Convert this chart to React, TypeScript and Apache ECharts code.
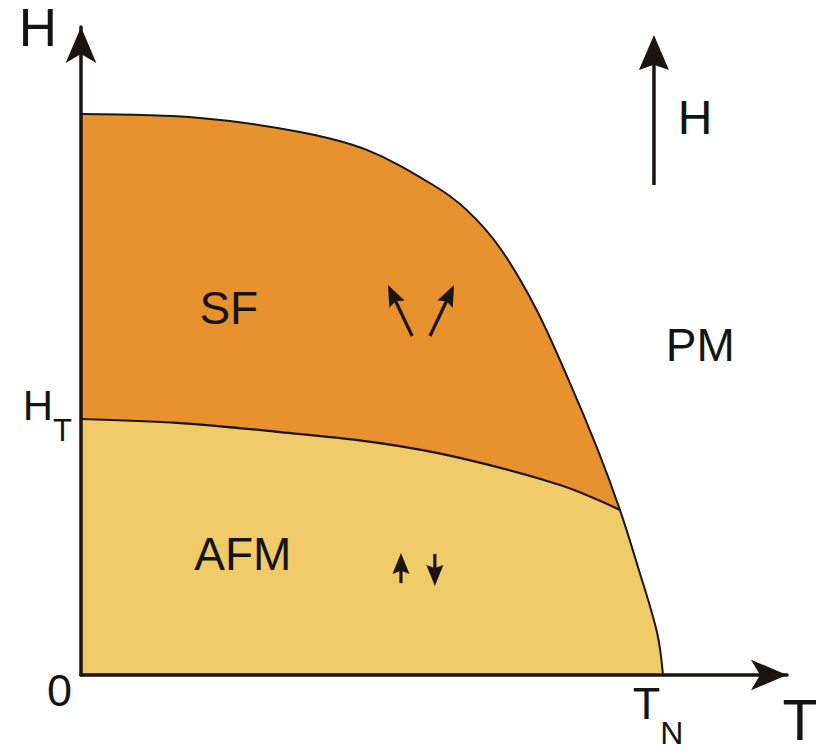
import { useEffect, useRef } from 'react';
import * as echarts from 'echarts';

// Phase boundary between the spin-flop phase and the paramagnet (T, H in reduced units: T/T_N, H/H_T)
const upperT = [0, 0.2045, 0.376, 0.491, 0.605, 0.663, 0.72, 0.782, 0.84, 0.888, 0.926];
const upperH = [2.191, 2.176, 2.121, 2.051, 1.914, 1.816, 1.668, 1.43, 1.141, 0.879, 0.645];
// Spin-flop transition line H_T(T)
const lowerT = [0, 0.17, 0.342, 0.514, 0.651, 0.823, 0.926];
const lowerH = [1.0, 0.984, 0.949, 0.906, 0.848, 0.742, 0.645];
// AFM / PM boundary from the bicritical point down to T_N
const tailT = [0.926, 0.957, 0.99, 1.0];
const tailH = [0.645, 0.422, 0.164, 0];

// Axis tick labels
const tTicks = [1];
const tTickNames = ['T|N'];
const hTicks = [0, 1];
const hTickNames = ['0', 'H|T'];

// Phase labels
const phaseNames = ['SF', 'AFM', 'PM'];
const phaseT = [0.254, 0.278, 1.064];
const phaseH = [1.434, 0.473, 1.289];

// Spin arrows: [T start, H start, T tip, H tip]
const spinArrows = [
  [0.569, 1.324, 0.5275, 1.523],
  [0.5997, 1.324, 0.641, 1.523],
  [0.5498, 0.359, 0.5498, 0.477],
  [0.608, 0.473, 0.608, 0.348],
];
// Applied field arrow and its label
const fieldArrow = [[0.9845, 1.914, 0.9845, 2.5]];
const fieldLabel = ['H'];
const fieldLabelT = [1.055];
const fieldLabelH = [2.176];

const T_MAX = 1.2131;
const H_MAX = 2.53125;

const ORANGE = '#e8922f';
const YELLOW = '#f0cb6a';
const INK = '#1c1410';
const TEXT = '#141414';
const FONT = '"Liberation Sans", Arial, Helvetica, sans-serif';

const zip = (xs: number[], ys: number[]) => xs.map((x, i) => [x, ys[i]]);

const arrowRenderer = (headLen: number, headWidth: number, lineWidth: number) =>
  (_params: any, api: any) => {
    const a = api.coord([api.value(0), api.value(1)]);
    const b = api.coord([api.value(2), api.value(3)]);
    const dx = b[0] - a[0];
    const dy = b[1] - a[1];
    const len = Math.hypot(dx, dy) || 1;
    const ux = dx / len;
    const uy = dy / len;
    const nx = -uy;
    const ny = ux;
    const bx = b[0] - ux * headLen;
    const by = b[1] - uy * headLen;
    const mx = b[0] - ux * headLen * 0.85;
    const my = b[1] - uy * headLen * 0.85;
    const hw = headWidth / 2;
    return {
      type: 'group',
      children: [
        {
          type: 'line',
          shape: { x1: a[0], y1: a[1], x2: b[0] - ux * headLen * 0.6, y2: b[1] - uy * headLen * 0.6 },
          style: { stroke: INK, lineWidth },
        },
        {
          type: 'polygon',
          shape: {
            points: [
              [b[0], b[1]],
              [bx + nx * hw, by + ny * hw],
              [mx, my],
              [bx - nx * hw, by - ny * hw],
            ],
          },
          style: { fill: INK },
        },
      ],
    };
  };

const plainLabel = (fontSize: number) => ({
  show: true,
  position: 'inside',
  formatter: '{b}',
  fontSize,
  color: TEXT,
  opacity: 1,
  fontFamily: FONT,
  textBorderWidth: 0,
  textBorderColor: 'transparent',
  textShadowBlur: 0,
});

export default function App() {
  const ref = useRef<HTMLDivElement>(null);

  useEffect(() => {
    const chart = echarts.init(ref.current!, null, { renderer: 'svg' });
    const upper = zip(upperT, upperH);
    const lower = zip(lowerT, lowerH);
    const tail = zip(tailT, tailH);
    const outer = upper.concat(tail.slice(1));

    chart.setOption({
      animation: false,
      backgroundColor: '#ffffff',
      textStyle: { fontFamily: FONT },
      grid: { left: 81, top: 27, right: 38, bottom: 76, outerBoundsMode: 'none', containLabel: false },
      xAxis: {
        type: 'value',
        min: 0,
        max: T_MAX,
        z: 5,
        name: 'T',
        nameLocation: 'end',
        nameGap: 0,
        nameTextStyle: {
          fontSize: 57,
          lineHeight: 50,
          color: TEXT,
          align: 'center',
          verticalAlign: 'top',
          padding: [20, 0, 0, 26],
        },
        axisLine: {
          show: true,
          symbol: ['none', 'arrow'],
          symbolSize: [23, 36],
          lineStyle: { color: INK, width: 3.5 },
        },
        axisTick: { show: false },
        splitLine: { show: false },
        axisLabel: {
          customValues: tTicks,
          margin: 3,
          color: TEXT,
          formatter: (v: number) => {
            const [main, sub] = tTickNames[tTicks.indexOf(v)].split('|');
            return `{b|${main}}{s|${sub}}`;
          },
          rich: {
            b: { fontSize: 45, lineHeight: 50, color: TEXT },
            s: { fontSize: 32, lineHeight: 24, padding: [60, 10, 0, 0], color: TEXT },
          },
        },
      },
      yAxis: {
        type: 'value',
        min: 0,
        max: H_MAX,
        z: 5,
        name: 'H',
        nameLocation: 'end',
        nameGap: 0,
        nameTextStyle: {
          fontSize: 53,
          lineHeight: 40,
          color: TEXT,
          align: 'right',
          verticalAlign: 'middle',
          padding: [0, 24, 0, 0],
        },
        axisLine: {
          show: true,
          symbol: ['none', 'arrow'],
          symbolSize: [23, 36],
          lineStyle: { color: INK, width: 3.5 },
        },
        axisTick: { show: false },
        splitLine: { show: false },
        axisLabel: {
          customValues: hTicks,
          margin: 9,
          color: TEXT,
          formatter: (v: number) => {
            const [main, sub] = hTickNames[hTicks.indexOf(v)].split('|');
            return sub ? `{b|${main}}{s|${sub}}` : `{z|${main}}`;
          },
          rich: {
            z: { fontSize: 45, lineHeight: 50, padding: [30, 0, 0, 0], color: TEXT },
            b: { fontSize: 42, lineHeight: 50, padding: [0, 0, 28, 0], color: TEXT },
            s: { fontSize: 31, lineHeight: 24, padding: [23, 0, 0, 0], color: TEXT },
          },
        },
      },
      series: [
        {
          name: 'ordered',
          type: 'line',
          data: outer,
          smooth: 0.35,
          symbol: 'none',
          lineStyle: { width: 0 },
          areaStyle: { color: YELLOW, opacity: 1 },
          z: 1,
        },
        {
          name: 'SF fill',
          type: 'line',
          data: upper,
          smooth: 0.35,
          symbol: 'none',
          lineStyle: { width: 0 },
          areaStyle: { color: ORANGE, opacity: 1, origin: 0.6 },
          z: 2,
        },
        {
          name: 'AFM fill',
          type: 'line',
          data: lower,
          smooth: 0.35,
          symbol: 'none',
          lineStyle: { width: 0 },
          areaStyle: { color: YELLOW, opacity: 1 },
          z: 3,
        },
        {
          name: 'boundary',
          type: 'line',
          data: outer,
          smooth: 0.35,
          symbol: 'none',
          lineStyle: { color: INK, width: 2 },
          z: 4,
        },
        {
          name: 'spin-flop line',
          type: 'line',
          data: lower,
          smooth: 0.35,
          symbol: 'none',
          lineStyle: { color: INK, width: 2.2 },
          z: 4,
        },
        {
          name: 'spins',
          type: 'custom',
          renderItem: arrowRenderer(21, 17, 3.2),
          data: spinArrows,
          z: 6,
        },
        {
          name: 'field',
          type: 'custom',
          renderItem: arrowRenderer(35, 30, 3.5),
          data: fieldArrow,
          z: 6,
        },
        {
          name: 'phases',
          type: 'scatter',
          symbolSize: 0,
          itemStyle: { opacity: 1 },
          data: phaseNames.map((n, i) => ({ name: n, value: [phaseT[i], phaseH[i]] })),
          label: plainLabel(46),
          emphasis: { disabled: true },
          z: 7,
        },
        {
          name: 'field label',
          type: 'scatter',
          symbolSize: 0,
          itemStyle: { opacity: 1 },
          data: fieldLabel.map((n, i) => ({ name: n, value: [fieldLabelT[i], fieldLabelH[i]] })),
          label: plainLabel(48),
          emphasis: { disabled: true },
          z: 7,
        },
      ],
    });
    return () => chart.dispose();
  }, []);

  return <div ref={ref} style={{ position: 'fixed', left: 0, top: 0, width: 825, height: 751 }} />;
}
